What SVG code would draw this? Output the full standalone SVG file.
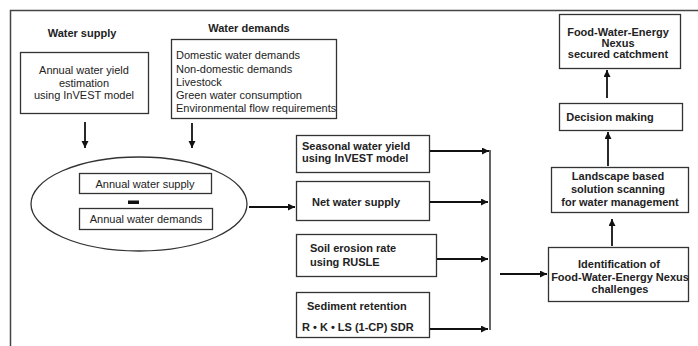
<svg xmlns="http://www.w3.org/2000/svg" width="698" height="346" viewBox="0 0 698 346">
<style>
.box{fill:#fff;stroke:#333;stroke-width:1.3}
.t{font-family:"Liberation Sans",Arial,sans-serif;font-size:11px;fill:#222}
.b{font-weight:bold}
.c{text-anchor:middle}
.ln{stroke:#111;stroke-width:1.8;fill:none}
</style>
<defs>
<marker id="ah" markerUnits="userSpaceOnUse" markerWidth="8" markerHeight="8" refX="7" refY="3.5" orient="auto">
<path d="M0,0 L7,3.5 L0,7 z" fill="#111"/>
</marker>
</defs>
<rect width="698" height="346" fill="#fff"/>
<path d="M10.5,346 V10.5 H698" fill="none" stroke="#444" stroke-width="1.5"/>

<g id="title-supply"><text class="t b c" x="82" y="37">Water supply</text></g>
<g id="title-demands"><text class="t b c" x="249" y="32">Water demands</text></g>

<g id="n-yield">
<rect class="box" x="20.5" y="52.5" width="128" height="61"/>
<text class="t c" x="84" y="74">Annual water yield</text>
<text class="t c" x="84" y="87">estimation</text>
<text class="t c" x="84" y="99">using InVEST model</text>
</g>

<g id="n-demands">
<rect class="box" x="171.5" y="39.5" width="165" height="79"/>
<text class="t" x="176" y="59">Domestic water demands</text>
<text class="t" x="176" y="72.5">Non-domestic demands</text>
<text class="t" x="176" y="86">Livestock</text>
<text class="t" x="176" y="99">Green water consumption</text>
<text class="t" x="176" y="112">Environmental flow requirements</text>
</g>

<g id="n-balance">
<ellipse cx="139" cy="204" rx="108" ry="47" fill="#fff" stroke="#333" stroke-width="1.3"/>
<rect class="box" x="79.5" y="173.5" width="132" height="20"/>
<text class="t c" x="145" y="187.5">Annual water supply</text>
<rect x="128" y="200.5" width="11" height="3.5" fill="#111"/>
<rect class="box" x="79.5" y="208.5" width="133" height="21"/>
<text class="t c" x="146" y="223">Annual water demands</text>
</g>

<g id="n-seasonal">
<rect class="box" x="296.5" y="135.5" width="133" height="37"/>
<text class="t b" x="302" y="150">Seasonal water yield</text>
<text class="t b" x="302" y="162">using InVEST model</text>
</g>

<g id="n-net">
<rect class="box" x="296.5" y="181.5" width="133" height="39"/>
<text class="t b" x="312" y="206">Net water supply</text>
</g>

<g id="n-soil">
<rect class="box" x="296.5" y="234.5" width="140" height="42"/>
<text class="t b" x="310" y="252">Soil erosion rate</text>
<text class="t b" x="310" y="266">using RUSLE</text>
</g>

<g id="n-sediment">
<rect class="box" x="296.5" y="292.5" width="133" height="45"/>
<text class="t b" x="307" y="310">Sediment retention</text>
<text class="t b" x="302" y="331">R • K • LS (1-CP) SDR</text>
</g>

<g id="n-ident">
<rect class="box" x="548.5" y="247.5" width="140" height="54"/>
<text class="t b c" x="619" y="268">Identification of</text>
<text class="t b c" x="620" y="281">Food-Water-Energy Nexus</text>
<text class="t b c" x="620" y="293">challenges</text>
</g>

<g id="n-landscape">
<rect class="box" x="551.5" y="167.5" width="137" height="45"/>
<text class="t b c" x="618" y="180">Landscape based</text>
<text class="t b c" x="618" y="193">solution scanning</text>
<text class="t b c" x="620" y="206">for water management</text>
</g>

<g id="n-decision">
<rect class="box" x="559.5" y="103.5" width="123" height="27"/>
<text class="t b c" x="610" y="121">Decision making</text>
</g>

<g id="n-fwe">
<rect class="box" x="559.5" y="14.5" width="121" height="54"/>
<text class="t b c" x="618" y="36">Food-Water-Energy</text>
<text class="t b c" x="618" y="47">Nexus</text>
<text class="t b c" x="618" y="58">secured catchment</text>
</g>

<g id="connectors">
<line class="ln" x1="85" y1="122" x2="85" y2="148" marker-end="url(#ah)"/>
<line class="ln" x1="192" y1="123" x2="192" y2="148" marker-end="url(#ah)"/>
<line class="ln" x1="249" y1="207" x2="295" y2="207" marker-end="url(#ah)"/>
<line class="ln" x1="430" y1="151" x2="489" y2="151" marker-end="url(#ah)"/>
<line class="ln" x1="430" y1="202" x2="488" y2="202" marker-end="url(#ah)"/>
<line class="ln" x1="437" y1="259" x2="488" y2="259" marker-end="url(#ah)"/>
<line class="ln" x1="430" y1="329" x2="488" y2="329" marker-end="url(#ah)"/>
<line x1="490" y1="150" x2="490" y2="330" stroke="#111" stroke-width="1.3"/>
<line class="ln" x1="500" y1="274" x2="547" y2="274" marker-end="url(#ah)"/>
<line class="ln" x1="612" y1="246" x2="612" y2="219" marker-end="url(#ah)"/>
<line class="ln" x1="608" y1="166" x2="608" y2="132" marker-end="url(#ah)"/>
<line class="ln" x1="607" y1="98" x2="607" y2="70" marker-end="url(#ah)"/>
</g>
</svg>
